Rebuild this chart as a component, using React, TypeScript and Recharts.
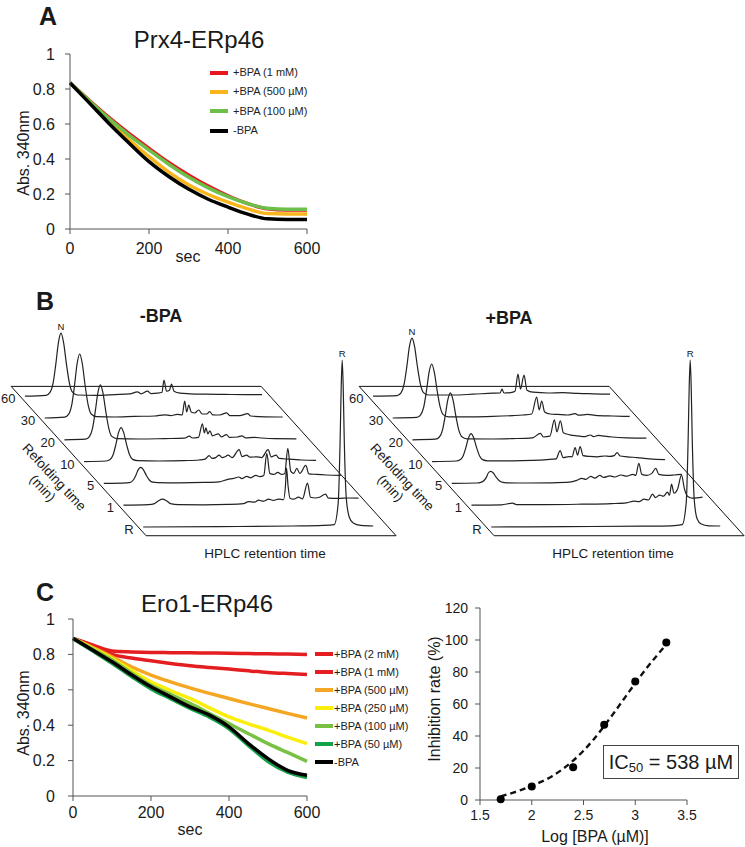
import React from "react";
import {
  LineChart,
  Line,
  XAxis,
  YAxis,
  Legend,
  ComposedChart,
  Scatter,
  ReferenceDot,
} from "recharts";

const FONT = '"Liberation Sans", Arial, Helvetica, sans-serif';
const AXIS = "#555";
const INK = "#1a1a1a";

// ---------- A: Prx4-ERp46 (Abs. 340nm vs sec) ----------
const TIME_A = [0, 50, 100, 150, 200, 250, 300, 350, 400, 450, 500, 550, 600];
const PRX4_BPA_1MM = [0.835, 0.733, 0.635, 0.545, 0.461, 0.38, 0.309, 0.245, 0.19, 0.145, 0.115, 0.108, 0.108];
const PRX4_BPA_500UM = [0.835, 0.725, 0.615, 0.51, 0.413, 0.325, 0.253, 0.197, 0.153, 0.115, 0.088, 0.086, 0.086];
const PRX4_BPA_100UM = [0.835, 0.73, 0.628, 0.535, 0.451, 0.37, 0.297, 0.235, 0.185, 0.145, 0.118, 0.113, 0.113];
const PRX4_NO_BPA = [0.835, 0.718, 0.6, 0.49, 0.385, 0.3, 0.228, 0.17, 0.125, 0.085, 0.058, 0.055, 0.055];
const ABS_TICKS = [0, 0.2, 0.4, 0.6, 0.8, 1];
const SEC_TICKS = [0, 200, 400, 600];

const SERIES_A = [
  { key: "mm1", name: "+BPA (1 mM)", color: "#e8171f", values: PRX4_BPA_1MM },
  { key: "um500", name: "+BPA (500 µM)", color: "#f9b51b", values: PRX4_BPA_500UM },
  { key: "um100", name: "+BPA (100 µM)", color: "#6cc04a", values: PRX4_BPA_100UM },
  { key: "none", name: "-BPA", color: "#000000", values: PRX4_NO_BPA },
];

// ---------- C: Ero1-ERp46 ----------
const TIME_C = [0, 50, 100, 150, 200, 250, 300, 350, 400, 450, 500, 550, 600];
const ERO1_BPA_2MM = [0.89, 0.853, 0.819, 0.814, 0.811, 0.81, 0.809, 0.808, 0.807, 0.805, 0.803, 0.802, 0.8];
const ERO1_BPA_1MM = [0.89, 0.85, 0.8, 0.78, 0.764, 0.749, 0.736, 0.726, 0.717, 0.707, 0.698, 0.692, 0.687];
const ERO1_BPA_500UM = [0.89, 0.84, 0.787, 0.73, 0.683, 0.645, 0.611, 0.58, 0.551, 0.522, 0.494, 0.467, 0.441];
const ERO1_BPA_250UM = [0.89, 0.835, 0.777, 0.71, 0.645, 0.596, 0.551, 0.498, 0.447, 0.408, 0.372, 0.333, 0.296];
const ERO1_BPA_100UM = [0.89, 0.83, 0.768, 0.695, 0.626, 0.574, 0.523, 0.466, 0.409, 0.352, 0.296, 0.246, 0.196];
const ERO1_BPA_50UM = [0.89, 0.82, 0.75, 0.675, 0.605, 0.55, 0.495, 0.445, 0.38, 0.285, 0.195, 0.135, 0.105];
const ERO1_NO_BPA = [0.89, 0.825, 0.758, 0.685, 0.617, 0.56, 0.504, 0.457, 0.391, 0.296, 0.211, 0.145, 0.117];

const SERIES_C = [
  { key: "mm2", name: "+BPA (2 mM)", color: "#e41e20", values: ERO1_BPA_2MM },
  { key: "mm1", name: "+BPA (1 mM)", color: "#e41e20", values: ERO1_BPA_1MM },
  { key: "um500", name: "+BPA (500 µM)", color: "#f5a623", values: ERO1_BPA_500UM },
  { key: "um250", name: "+BPA (250 µM)", color: "#fbee0c", values: ERO1_BPA_250UM },
  { key: "um100", name: "+BPA (100 µM)", color: "#79c143", values: ERO1_BPA_100UM },
  { key: "um50", name: "+BPA (50 µM)", color: "#12a24a", values: ERO1_BPA_50UM },
  { key: "none", name: "-BPA", color: "#000000", values: ERO1_NO_BPA },
];

// inhibition vs log[BPA]
const LOG_BPA = [1.7, 2, 2.4, 2.7, 3, 3.3];
const INHIBITION = [0.5, 8.5, 20.5, 47, 74, 98.5];
const FIT_LOG = [1.7, 1.8, 1.9, 2.0, 2.1, 2.2, 2.3, 2.4, 2.5, 2.6, 2.7, 2.8, 2.9, 3.0, 3.1, 3.2, 3.3];
const FIT_RATE = [2.2, 4.2, 6.3, 8.8, 11.6, 15, 19.4, 24.6, 30.8, 38, 46.2, 55, 64, 73, 81.6, 89.6, 97.2];
const RATE_TICKS = [0, 20, 40, 60, 80, 100, 120];
const LOG_TICKS = [1.5, 2, 2.5, 3, 3.5];

// ---------- B: HPLC chromatograms, [retention (min), signal] ----------
const REFOLD_LABELS = ["60", "30", "20", "10", "5", "1", "R"];

const NEG_60 = [[0,0],[4.2,0.4],[5,1.9],[5.6,6.3],[6.15,15.8],[6.7,27],[7.2,31.5],[7.7,27],[8.3,15.8],[8.9,6.3],[9.5,2],[10.5,0.6],[14,0.4],[18,0.8],[21,1.2],[22.5,2.2],[23.2,1.2],[24.5,2.5],[25.2,1.3],[26.5,1.5],[27.4,2],[27.8,8],[28.3,2.5],[28.9,3],[29.3,6],[29.8,2.5],[31,1.5],[33,1.2],[36,1],[40,0.9],[44,0.8],[47.4,0.8]];
const NEG_30 = [[0,0],[4,0.4],[4.8,1.9],[5.4,6.4],[5.95,16],[6.5,27.5],[7,32],[7.5,27.5],[8.1,16],[8.7,6.4],[9.3,2],[10.3,0.7],[14,0.5],[18,0.8],[22,1],[24,1.6],[25.2,1.2],[26.5,1.8],[27.5,1.6],[28,8.5],[28.4,3],[28.8,6.5],[29.3,3],[30,2.5],[30.8,4],[31.5,2],[32.4,2],[33,3.2],[33.6,1.6],[35,1.5],[36.4,2.6],[37,1.2],[39,1.2],[40.6,2.2],[41.2,1],[44,0.6],[47.6,0.5]];
const NEG_20 = [[0,0],[4.2,0.3],[5,1.6],[5.6,5.5],[6.15,13.8],[6.7,23.6],[7.2,27.5],[7.7,23.6],[8.3,13.8],[8.9,5.5],[9.5,1.7],[10.5,0.6],[15,0.4],[20,0.6],[24,0.8],[25,1.8],[25.6,0.9],[26.8,1.2],[27.6,8],[28,3.5],[28.3,6],[28.7,3],[29.1,4.5],[29.6,2],[30.8,3],[31.4,1.5],[32.4,2.6],[33,1.2],[34.6,1.4],[35.5,2],[36.2,1],[38,1.2],[39.5,0.9],[42,0.6],[46.4,0.5]];
const NEG_10 = [[0,0],[4.4,0.3],[5.2,1],[5.8,3.4],[6.35,8.5],[6.9,14.6],[7.4,17],[7.9,14.6],[8.5,8.5],[9.1,3.4],[9.7,1.1],[10.7,0.5],[15,0.3],[20,0.5],[23,0.8],[24.2,1.2],[25,3],[25.6,1.6],[26.3,2],[27,3.2],[27.6,2],[28.2,2.4],[28.8,3.2],[29.6,2],[31,6],[31.6,2.5],[32.5,3.2],[33.2,2.2],[34.5,2.4],[35.5,2],[36.8,6],[37.4,2.4],[38.4,3.2],[39,1.6],[41,1.2],[43.5,0.8],[46.4,0.6]];
const NEG_5 = [[0,0],[4.6,0.3],[5.4,0.6],[5.9,1.7],[6.4,4],[6.9,6.9],[7.4,8],[7.9,6.9],[8.5,4],[9.1,1.7],[9.8,0.6],[10.8,0.4],[15,0.3],[20,0.5],[23,0.8],[24.8,2],[26,2.5],[27,3.2],[27.6,2.4],[28.6,3.5],[29.4,2.8],[30.4,4],[31.2,3.4],[32,4],[32.6,15],[33.2,5],[34,4.5],[34.8,5.5],[35.6,4.5],[36.2,5],[36.8,17.5],[37.4,6],[38,5],[38.6,7.5],[39.2,5],[40.4,9],[41,4.8],[42.5,4.5],[44.5,4.2],[47.4,4]];
const NEG_1 = [[0,0],[5,0.3],[6.2,0.8],[7,2.2],[7.8,3],[8.6,2.2],[9.4,0.8],[11,0.3],[16,0.2],[21,0.4],[24,0.8],[25,1.8],[26.2,1.5],[27,2.5],[28,2],[29,3],[30,2.4],[31,3],[32,2.8],[32.4,10],[32.6,18.5],[32.9,10],[33.3,3.5],[34,3],[35,4],[35.8,3.2],[36.8,11],[37.4,4],[38.4,3.6],[39.2,4],[40.4,5.5],[41,3.5],[43,3.4],[45,3.6],[47,3.5]];
const NEG_R = [[0,0],[15,0.2],[30,0.5],[36,0.8],[38.2,1.2],[39,12],[39.4,45],[39.6,70],[39.8,83.5],[40,70],[40.2,45],[40.6,15],[41.2,5],[42,2],[43.5,0.8],[46,0.5]];

const POS_60 = [[0,0],[4.8,0.3],[5.6,1.7],[6.2,5.8],[6.75,14.5],[7.3,25],[7.8,29],[8.3,25],[8.9,14.5],[9.5,5.8],[10.1,1.8],[11.1,0.6],[16,0.6],[20,1],[24,1.5],[25.4,1.6],[25.8,3.5],[26.2,1.6],[27.5,1.8],[28.4,2.5],[29,11],[29.5,3.5],[30.2,10.5],[30.8,3],[32,2],[35,1.6],[38,1.8],[41,1.4],[44,1.2],[47.4,1]];
const POS_30 = [[0,0],[4.8,0.3],[5.6,1.6],[6.2,5.4],[6.75,13.5],[7.3,23.2],[7.8,27],[8.3,23.2],[8.9,13.5],[9.5,5.4],[10.1,1.7],[11.1,0.6],[16,0.6],[20,0.8],[24,1.2],[26,1.5],[27.8,2],[28.8,10.5],[29.3,4],[29.8,8.5],[30.4,3],[31.5,2],[33,1.8],[35,1.5],[36.5,2.2],[37.2,1.4],[39,1.8],[40.5,1.3],[44,1],[47.4,0.8]];
const POS_20 = [[0,0],[4.6,0.3],[5.4,1.4],[6,4.7],[6.55,11.8],[7.1,20.2],[7.6,23.5],[8.1,20.2],[8.7,11.8],[9.3,4.7],[9.9,1.5],[10.9,0.5],[16,0.4],[20,0.6],[24,1],[25.6,3.2],[26.2,1.4],[27.5,1.8],[28.4,10],[28.9,4],[29.6,9.5],[30.2,3.5],[31.5,2.5],[33,2],[34.5,1.6],[35.6,2.4],[36.2,1.6],[37.2,2.2],[38.4,1.8],[40,1.4],[43,1],[46.8,0.8]];
const POS_10 = [[0,0],[4.8,0.3],[5.6,0.9],[6.2,2.8],[6.75,7],[7.3,12],[7.8,14],[8.3,12],[8.9,7],[9.5,2.8],[10.1,1],[11.1,0.4],[16,0.4],[20,0.6],[23,1],[24.8,1.4],[25.6,5.5],[26.2,2],[27.4,2.5],[28,2.4],[28.6,7],[29.1,3.2],[29.6,7.5],[30.2,3],[31.5,2.6],[33,2.4],[34.5,2.8],[35.5,2.6],[36.4,3],[37,4.5],[37.6,2.8],[39,2.4],[41,2],[43.5,1.4],[46.6,1]];
const POS_5 = [[0,0],[5,0.2],[5.8,0.5],[6.4,1.3],[6.9,3],[7.3,5.2],[7.8,6],[8.3,5.2],[8.9,3],[9.5,1.3],[10.2,0.5],[11,0.3],[15,0.2],[20,0.3],[23.5,0.6],[25,1.5],[26,2.5],[26.8,2],[27.8,3.5],[28.6,2.6],[29.6,4],[30.4,3],[31.6,3.8],[32.6,3.2],[33.8,4.2],[35,3.6],[36.2,4.5],[36.8,4],[37.4,10],[38,4.5],[39,4],[40,5],[40.8,7.5],[41.4,4.5],[43,4],[44.5,4.2],[46,4.5]];
const POS_1 = [[0,0],[6,0.2],[8.2,1],[9,0.3],[15,0.3],[22,0.5],[28,0.8],[31,1.2],[32.5,2],[33.5,1.8],[34.5,3],[35.4,2.6],[36.2,5.5],[36.8,3.8],[37.6,5],[38.4,4.5],[39.2,6.5],[39.6,5],[40,10.5],[40.5,6],[41.2,8],[42,15],[42.6,8],[43.2,4.5],[44.2,3.5],[46.2,4]];
const POS_R = [[0,0],[15,0.2],[30,0.4],[36,0.6],[38.2,1.2],[39,12],[39.4,45],[39.6,70],[39.8,83.5],[40,70],[40.2,45],[40.6,14],[41.2,4],[42,1.5],[43.5,0.6],[45.8,0.5]];

const NEG_TRACES = [NEG_60, NEG_30, NEG_20, NEG_10, NEG_5, NEG_1, NEG_R];
const POS_TRACES = [POS_60, POS_30, POS_20, POS_10, POS_5, POS_1, POS_R];

// oblique projection of the stacked chromatograms
const SKEW = 3.94; // retention shift per trace
const LIFT = 10.9; // signal lift per trace
const FRAME_RT = [-1, 49];
const FRAME_DEPTH = [-0.45, 6.4];

function place(rt: number, sig: number, depth: number) {
  return { x: rt + depth * SKEW, y: sig + (6 - depth) * LIFT };
}

const FRAME = [
  place(FRAME_RT[0], 0, FRAME_DEPTH[0]),
  place(FRAME_RT[1], 0, FRAME_DEPTH[0]),
  place(FRAME_RT[1], 0, FRAME_DEPTH[1]),
  place(FRAME_RT[0], 0, FRAME_DEPTH[1]),
  place(FRAME_RT[0], 0, FRAME_DEPTH[0]),
];

function apex(trace: number[][]) {
  return trace.reduce((a, b) => (b[1] > a[1] ? b : a));
}

function Txt({
  x, y, size, bold, angle, lineHeight, children,
}: {
  x: number; y: number; size: number; bold?: boolean; angle?: number; lineHeight?: number;
  children: React.ReactNode;
}) {
  return (
    <div
      style={{
        position: "absolute",
        left: x,
        top: y,
        transform: `translate(-50%, -50%)${angle ? ` rotate(${angle}deg)` : ""}`,
        fontSize: size,
        fontWeight: bold ? 700 : 400,
        lineHeight: lineHeight ? `${lineHeight}px` : 1,
        whiteSpace: "pre",
        textAlign: "center",
        color: INK,
      }}
    >
      {children}
    </div>
  );
}

function LineKey({ payload, series, rowHeight, gap }: any) {
  return (
    <div style={{ fontSize: 11, color: "#222", lineHeight: 1 }}>
      {series.map((s: any) => {
        const hit = (payload ?? []).find((p: any) => p.dataKey === s.key);
        return (
          <div key={s.key} style={{ display: "flex", alignItems: "center", height: rowHeight }}>
            <span style={{ display: "inline-block", width: 18, height: 4, background: hit?.color ?? s.color, marginRight: gap }} />
            <span>{s.name}</span>
          </div>
        );
      })}
    </div>
  );
}

// chart spans page x from `left`; retention 0 of the back trace sits at `left + (-xMin) * 5`
function Waterfall({ left, xMin, traces }: { left: number; xMin: number; traces: number[][][] }) {
  const xMax = 74.4;
  const back = apex(traces[0]);
  const front = apex(traces[6]);
  const nTop = place(back[0], back[1], 0);
  const rTop = place(front[0], front[1], 6);
  return (
    <div style={{ position: "absolute", left, top: 320 }}>
      <LineChart width={(xMax - xMin) * 5} height={230} margin={{ top: 0, right: 0, bottom: 0, left: 0 }}>
        <XAxis type="number" dataKey="x" domain={[xMin, xMax]} hide allowDataOverflow />
        <YAxis type="number" domain={[-11.5, 103.5]} hide allowDataOverflow />
        <Line data={FRAME} dataKey="y" type="linear" stroke="#111" strokeWidth={1} dot={false} isAnimationActive={false} />
        {traces.map((tr, d) => (
          <Line
            key={d}
            data={tr.map(([rt, s]) => place(rt, s, d))}
            dataKey="y"
            type="monotone"
            stroke="#222"
            strokeWidth={1.2}
            dot={false}
            isAnimationActive={false}
          />
        ))}
        {REFOLD_LABELS.map((lab, d) => (
          <ReferenceDot
            key={lab}
            x={-1.3 + d * SKEW}
            y={(6 - d) * LIFT - 1.2}
            r={0}
            fill="none"
            stroke="none"
            label={{ value: lab, position: "left", offset: 3, fontSize: 13, fill: INK }}
          />
        ))}
        <ReferenceDot x={nTop.x} y={nTop.y} r={0} fill="none" stroke="none"
          label={{ value: "N", position: "top", offset: 3, fontSize: 9.5, fill: "#111" }} />
        <ReferenceDot x={rTop.x} y={rTop.y} r={0} fill="none" stroke="none"
          label={{ value: "R", position: "top", offset: 3, fontSize: 9.5, fill: "#111" }} />
      </LineChart>
    </div>
  );
}

const tickStyle = (size: number) => ({ fontSize: size, fill: INK });

export default function App() {
  const rowsA = TIME_A.map((t, i) => {
    const row: Record<string, number> = { t };
    SERIES_A.forEach((s) => (row[s.key] = s.values[i]));
    return row;
  });
  const rowsC = TIME_C.map((t, i) => {
    const row: Record<string, number> = { t };
    SERIES_C.forEach((s) => (row[s.key] = s.values[i]));
    return row;
  });
  const fitRows = FIT_LOG.map((x, i) => ({ x, y: FIT_RATE[i] }));
  const pointRows = LOG_BPA.map((x, i) => ({ x, y: INHIBITION[i] }));

  return (
    <div
      style={{
        position: "absolute",
        left: 0,
        top: 0,
        width: 745,
        height: 847,
        overflow: "hidden",
        background: "#fff",
        fontFamily: FONT,
      }}
    >
      {/* ---------- A ---------- */}
      <Txt x={48} y={16} size={25} bold>A</Txt>
      <Txt x={199} y={40} size={24}>Prx4-ERp46</Txt>
      <div style={{ position: "absolute", left: 0, top: 0 }}>
        <LineChart width={330} height={270} data={rowsA} margin={{ top: 54, right: 23, bottom: 1, left: 10 }}>
          <XAxis dataKey="t" type="number" domain={[0, 600]} ticks={SEC_TICKS} height={40}
            tickSize={5} tickMargin={9} tick={tickStyle(16)}
            axisLine={{ stroke: AXIS }} tickLine={{ stroke: AXIS }} />
          <YAxis type="number" domain={[0, 1]} ticks={ABS_TICKS} width={60}
            tickSize={5} tickMargin={10} tick={tickStyle(16)}
            axisLine={{ stroke: AXIS }} tickLine={{ stroke: AXIS }} />
          <Legend layout="vertical" align="center" verticalAlign="middle"
            wrapperStyle={{ left: 210, top: 63, width: 130 }}
            content={(p: any) => <LineKey {...p} series={SERIES_A} rowHeight={19.3} gap={5} />} />
          {SERIES_A.map((s) => (
            <Line key={s.key} dataKey={s.key} name={s.name} type="monotone" stroke={s.color}
              strokeWidth={3.5} dot={false} isAnimationActive={false} />
          ))}
        </LineChart>
      </div>
      <Txt x={24} y={153} size={16} angle={-90}>Abs. 340nm</Txt>
      <Txt x={188} y={257} size={16}>sec</Txt>

      {/* ---------- B ---------- */}
      <Txt x={45} y={301} size={25} bold>B</Txt>
      <Txt x={161} y={316} size={18} bold>-BPA</Txt>
      <Txt x={509} y={318} size={18} bold>+BPA</Txt>
      <Waterfall left={0} xMin={-5} traces={NEG_TRACES} />
      <Waterfall left={328} xMin={-9} traces={POS_TRACES} />
      <Txt x={48} y={483} size={13.5} angle={47} lineHeight={16}>{"Refolding time\n(min)"}</Txt>
      <Txt x={396} y={483} size={13.5} angle={47} lineHeight={16}>{"Refolding time\n(min)"}</Txt>
      <Txt x={265} y={554} size={13.5}>HPLC retention time</Txt>
      <Txt x={613} y={554} size={13.5}>HPLC retention time</Txt>

      {/* ---------- C ---------- */}
      <Txt x={45} y={592} size={25} bold>C</Txt>
      <Txt x={207} y={604} size={24}>Ero1-ERp46</Txt>
      <div style={{ position: "absolute", left: 0, top: 580 }}>
        <LineChart width={420} height={267} data={rowsC} margin={{ top: 39, right: 113, bottom: 11, left: 13 }}>
          <XAxis dataKey="t" type="number" domain={[0, 600]} ticks={SEC_TICKS} height={40}
            tickSize={5} tickMargin={6} tick={tickStyle(16)}
            axisLine={{ stroke: AXIS }} tickLine={{ stroke: AXIS }} />
          <YAxis type="number" domain={[0, 1]} ticks={ABS_TICKS} width={60}
            tickSize={5} tickMargin={13} tick={tickStyle(16)}
            axisLine={{ stroke: AXIS }} tickLine={{ stroke: AXIS }} />
          <Legend layout="vertical" align="center" verticalAlign="middle"
            wrapperStyle={{ left: 315, top: 65, width: 110 }}
            content={(p: any) => <LineKey {...p} series={SERIES_C} rowHeight={18} gap={1} />} />
          {SERIES_C.map((s) => (
            <Line key={s.key} dataKey={s.key} name={s.name} type="monotone" stroke={s.color}
              strokeWidth={3.5} dot={false} isAnimationActive={false} />
          ))}
        </LineChart>
      </div>
      <Txt x={24} y={713} size={16} angle={-90}>Abs. 340nm</Txt>
      <Txt x={190} y={830} size={16}>sec</Txt>

      <div style={{ position: "absolute", left: 420, top: 590 }}>
        <ComposedChart width={325} height={257} margin={{ top: 18, right: 58, bottom: 7, left: 15 }}>
          <XAxis dataKey="x" type="number" domain={[1.5, 3.5]} ticks={LOG_TICKS} height={40}
            tickSize={5} tickMargin={5} tick={tickStyle(14)}
            axisLine={{ stroke: AXIS }} tickLine={{ stroke: AXIS }} />
          <YAxis type="number" domain={[0, 120]} ticks={RATE_TICKS} width={45}
            tickSize={5} tickMargin={7} tick={tickStyle(14)}
            axisLine={{ stroke: AXIS }} tickLine={{ stroke: AXIS }} />
          <Line data={fitRows} dataKey="y" type="monotone" stroke="#111" strokeWidth={2.4}
            strokeDasharray="6 4" dot={false} isAnimationActive={false} />
          <Scatter data={pointRows} dataKey="y" fill="#000" isAnimationActive={false}
            shape={(p: any) => <circle cx={p.cx} cy={p.cy} r={4} fill="#000" />} />
        </ComposedChart>
      </div>
      <Txt x={435} y={699} size={16} angle={-90}>Inhibition rate (%)</Txt>
      <Txt x={595} y={837} size={16}>Log [BPA (µM)]</Txt>
      <div
        style={{
          position: "absolute",
          left: 603,
          top: 745,
          width: 136,
          height: 34,
          boxSizing: "border-box",
          border: "1px solid #444",
          background: "#fff",
          display: "flex",
          alignItems: "center",
          justifyContent: "center",
          fontSize: 20,
          color: INK,
          whiteSpace: "nowrap",
        }}
      >
        IC<span style={{ fontSize: 13, position: "relative", top: 5 }}>50</span>&nbsp;= 538 µM
      </div>
    </div>
  );
}
